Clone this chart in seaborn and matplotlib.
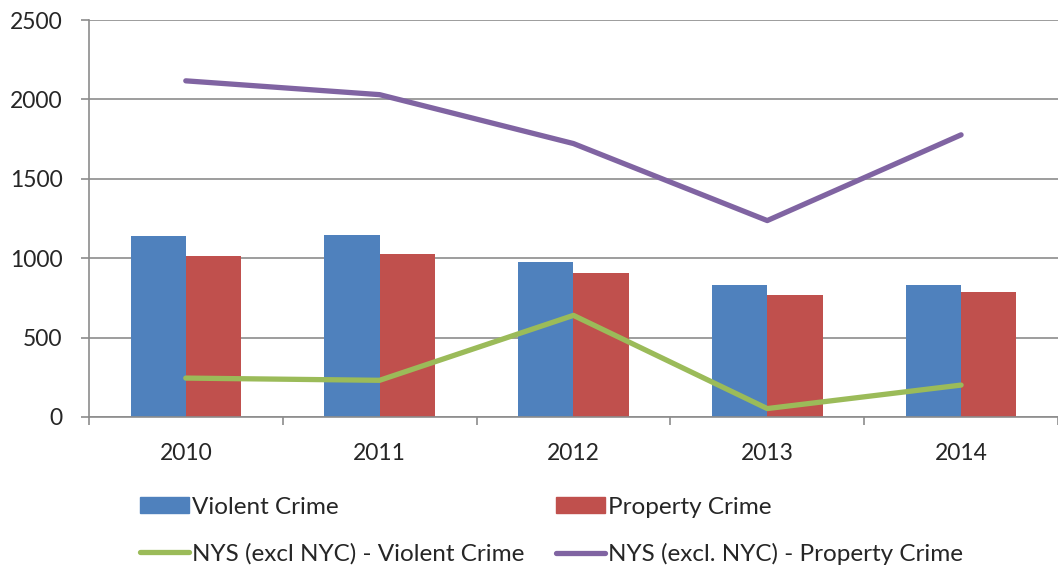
import numpy as np
import pandas as pd
import seaborn as sns
import matplotlib.pyplot as plt
from matplotlib.patches import Patch
from matplotlib.lines import Line2D

years = ['2010', '2011', '2012', '2013', '2014']
violent = [1141, 1143, 979, 833, 831]
property_crime = [1013, 1024, 904, 767, 784]
nys_violent = [245, 231, 640, 53, 201]
nys_property = [2117, 2030, 1722, 1237, 1777]

bar_names = ['Violent Crime', 'Property Crime']
line_names = ['NYS (excl NYC) - Violent Crime', 'NYS (excl. NYC) - Property Crime']
bar_colors = ['#4f81bd', '#c0504d']
line_colors = ['#9bbb59', '#8064a2']

sns.set_theme(style='white')
plt.rcParams['font.family'] = ['Lato', 'DejaVu Sans']

bars = pd.DataFrame({
    'year': years * 2,
    'value': violent + property_crime,
    'kind': [bar_names[0]] * 5 + [bar_names[1]] * 5,
})
lines = pd.DataFrame({'year': years, 'v': nys_violent, 'p': nys_property})

fig = plt.figure(figsize=(10.58, 5.72), dpi=100)
ax = fig.add_axes([0.084, 0.271, 0.916, 0.694])

sns.barplot(data=bars, x='year', y='value', hue='kind', palette=bar_colors,
            width=0.57, saturation=1, linewidth=0, ax=ax, legend=False, zorder=2)
sns.pointplot(data=lines, x='year', y='v', color=line_colors[0], markers='',
              linewidth=3.8, ax=ax, zorder=3)
sns.pointplot(data=lines, x='year', y='p', color=line_colors[1], markers='',
              linewidth=3.8, ax=ax, zorder=3)
for ln in ax.lines:
    ln.set_solid_capstyle('round')

ax.set_ylim(0, 2500)
ax.set_xlim(-0.5, 4.5)
ax.set_yticks(range(0, 2501, 500))
ax.yaxis.grid(True, color='#8c8c8c', linewidth=1.2)
ax.set_axisbelow(True)
ax.set_xlabel('')
ax.set_ylabel('')

ax.set_xticks(np.arange(-0.5, 5, 1), minor=True)
ax.tick_params(axis='x', which='major', length=0, pad=19, labelsize=16.5)
ax.tick_params(axis='x', which='minor', length=6, color='#8c8c8c', width=1.2, bottom=True)
ax.tick_params(axis='y', length=6, color='#8c8c8c', width=1.2, left=True, labelsize=16.5, pad=13)

for s in ['top', 'right']:
    ax.spines[s].set_visible(False)
for s in ['left', 'bottom']:
    ax.spines[s].set_color('#8c8c8c')
    ax.spines[s].set_linewidth(1.2)

handles = [Patch(color=bar_colors[0], label=bar_names[0]),
           Line2D([], [], color=line_colors[0], lw=3.8, solid_capstyle='round', label=line_names[0]),
           Patch(color=bar_colors[1], label=bar_names[1]),
           Line2D([], [], color=line_colors[1], lw=3.8, solid_capstyle='round', label=line_names[1])]
fig.legend(handles=handles, ncol=2, loc='center left',
           bbox_to_anchor=(140 / 1058, 1 - 531 / 572),
           frameon=False, fontsize=17.5, handlelength=2.0, handleheight=0.65,
           handletextpad=0.15, borderpad=0, borderaxespad=0,
           columnspacing=1.3, labelspacing=1.05)

fig.savefig('out.png', dpi=100)
